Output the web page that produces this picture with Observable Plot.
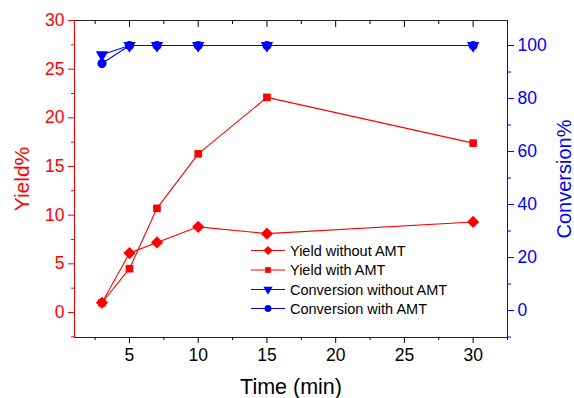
<!DOCTYPE html>
<html><head><meta charset="utf-8">
<script src="https://cdn.jsdelivr.net/npm/d3@7"></script>
<script src="https://cdn.jsdelivr.net/npm/@observablehq/plot@0.6"></script>
<style>
body{margin:0;background:#fff}
#c{position:relative;width:574px;height:398px;font-family:"Liberation Sans",Arial,sans-serif}
#legend{position:absolute;left:0;top:0}
</style>
</head><body><div id="c"></div>
<script>
const times = [3, 5, 7, 10, 15, 30];
const yieldWithout = [1.0, 6.1, 7.2, 8.8, 8.1, 9.3];
const yieldWith = [1.0, 4.5, 10.7, 16.3, 22.1, 17.4];
const convWithout = [96.5, 100, 100, 100, 100, 100];
const convWith = [93.2, 100, 100, 100, 100, 100];
const xTicks = [5, 10, 15, 20, 25, 30];
const xMinor = [2.5, 7.5, 12.5, 17.5, 22.5, 27.5, 32.5];
const yieldTicks = [0, 5, 10, 15, 20, 25, 30];
const yieldMinor = [-2.5, 2.5, 7.5, 12.5, 17.5, 22.5, 27.5];
const convTicks = [0, 20, 40, 60, 80, 100];
const convMinor = [-10, 10, 30, 50, 70, 90];
const seriesNames = ["Yield without AMT", "Yield with AMT", "Conversion without AMT", "Conversion with AMT"];

const RED = "#ff0000", BLUE = "#0000ff";
const xDomain = [1, 32.5];
const yDomain = [-2.57, 30];
// conversion value -> yield-axis value (right axis: 0 ↔ 0.2, 100 ↔ 27.43)
const cA = 0.2, cB = 0.2723;
const c2y = c => cA + cB * c;
const y2c = y => Math.round((y - cA) / cB);

const rows = [];
times.forEach((t, i) => {
  rows.push({s: seriesNames[0], t, v: yieldWithout[i]});
  rows.push({s: seriesNames[1], t, v: yieldWith[i]});
  rows.push({s: seriesNames[2], t, v: c2y(convWithout[i])});
  rows.push({s: seriesNames[3], t, v: c2y(convWith[i])});
});
const colorOf = {[seriesNames[0]]: RED, [seriesNames[1]]: RED, [seriesNames[2]]: BLUE, [seriesNames[3]]: BLUE};
const symOf = {[seriesNames[0]]: "diamond2", [seriesNames[1]]: "square", [seriesNames[2]]: "triangle", [seriesNames[3]]: "circle"};
const rOf = {[seriesNames[0]]: 5.5, [seriesNames[1]]: 4.3, [seriesNames[2]]: 4.6, [seriesNames[3]]: 4.6};
const rotOf = {[seriesNames[0]]: 0, [seriesNames[1]]: 0, [seriesNames[2]]: 180, [seriesNames[3]]: 0};

const FS = 17.5;
const marks = [];
// frame
marks.push(Plot.ruleY([yDomain[1]], {stroke: "#222"}));
marks.push(Plot.ruleY([yDomain[0]], {stroke: "#222"}));
marks.push(Plot.ruleX([xDomain[0]], {stroke: RED}));
marks.push(Plot.ruleX([xDomain[1]], {stroke: BLUE}));
// bottom axis
marks.push(Plot.axisX(xTicks, {anchor: "bottom", tickSize: 6, tickPadding: 5, fontSize: FS, color: "#000", label: null}));
marks.push(Plot.axisX(xMinor, {anchor: "bottom", tickSize: 3, tickFormat: () => "", color: "#000", label: null}));
// top axis (inward: shifted down by its own length)
marks.push(Plot.axisX(xTicks, {anchor: "top", tickSize: 6, dy: 6, tickFormat: () => "", color: "#000", label: null}));
marks.push(Plot.axisX(xMinor, {anchor: "top", tickSize: 3, dy: 3, tickFormat: () => "", color: "#000", label: null}));
// left axis
marks.push(Plot.axisY(yieldTicks, {anchor: "left", tickSize: 6, tickPadding: 4, fontSize: FS, color: RED, label: null}));
marks.push(Plot.axisY(yieldMinor, {anchor: "left", tickSize: 3, tickFormat: () => "", color: RED, label: null}));
// right axis
marks.push(Plot.axisY(convTicks.map(c2y), {anchor: "right", tickSize: 6, tickPadding: 4, fontSize: FS, color: BLUE, tickFormat: y2c, label: null}));
marks.push(Plot.axisY(convMinor.map(c2y), {anchor: "right", tickSize: 3, tickFormat: () => "", color: BLUE, label: null}));
// titles
marks.push(Plot.text(["Yield%"], {frameAnchor: "left", textAnchor: "middle", lineAnchor: "middle", rotate: -90, dx: -52, fontSize: 21, fill: RED}));
marks.push(Plot.text(["Conversion%"], {frameAnchor: "right", textAnchor: "middle", lineAnchor: "middle", rotate: -90, dx: 57, fontSize: 20, fill: BLUE}));
marks.push(Plot.text(["Time (min)"], {frameAnchor: "bottom", textAnchor: "middle", lineAnchor: "middle", dy: 50, fontSize: 21.5, fill: "#000"}));
// series
seriesNames.forEach(s => {
  const d = rows.filter(r => r.s === s);
  marks.push(Plot.line(d, {x: "t", y: "v", stroke: colorOf[s], strokeWidth: 1.1}));
  marks.push(Plot.dot(d, {x: "t", y: "v", symbol: symOf[s], r: rOf[s], fill: colorOf[s], stroke: "none", rotate: rotOf[s]}));
});

const chart = Plot.plot({
  width: 574, height: 398,
  marginTop: 20, marginBottom: 61, marginLeft: 74, marginRight: 67,
  style: {fontFamily: '"Liberation Sans", Arial, sans-serif', background: "#fff", overflow: "visible"},
  x: {domain: xDomain, axis: null},
  y: {domain: yDomain, axis: null},
  marks
});
const c = document.getElementById("c");
c.appendChild(chart);

// legend overlay
const lg = d3.select(c).append("svg").attr("id", "legend").attr("width", 574).attr("height", 398);
const ly = [250.5, 270, 289.5, 308.5];
seriesNames.forEach((s, i) => {
  const g = lg.append("g").attr("transform", `translate(0,${ly[i]})`);
  g.append("line").attr("x1", 251).attr("x2", 285).attr("stroke", colorOf[s]).attr("stroke-width", 1.1);
  const sym = {diamond2: d3.symbolDiamond2, square: d3.symbolSquare, triangle: d3.symbolTriangle, circle: d3.symbolCircle}[symOf[s]];
  const r = rOf[s] * 0.75;
  g.append("path").attr("d", d3.symbol(sym, Math.PI * r * r)()).attr("fill", colorOf[s])
    .attr("transform", `translate(268,0) rotate(${rotOf[s]})`);
  g.append("text").attr("x", 290).attr("dy", "0.35em").attr("font-size", 14.5).attr("fill", "#000")
    .attr("font-family", '"Liberation Sans", Arial, sans-serif').text(s);
});
</script>
</body></html>
